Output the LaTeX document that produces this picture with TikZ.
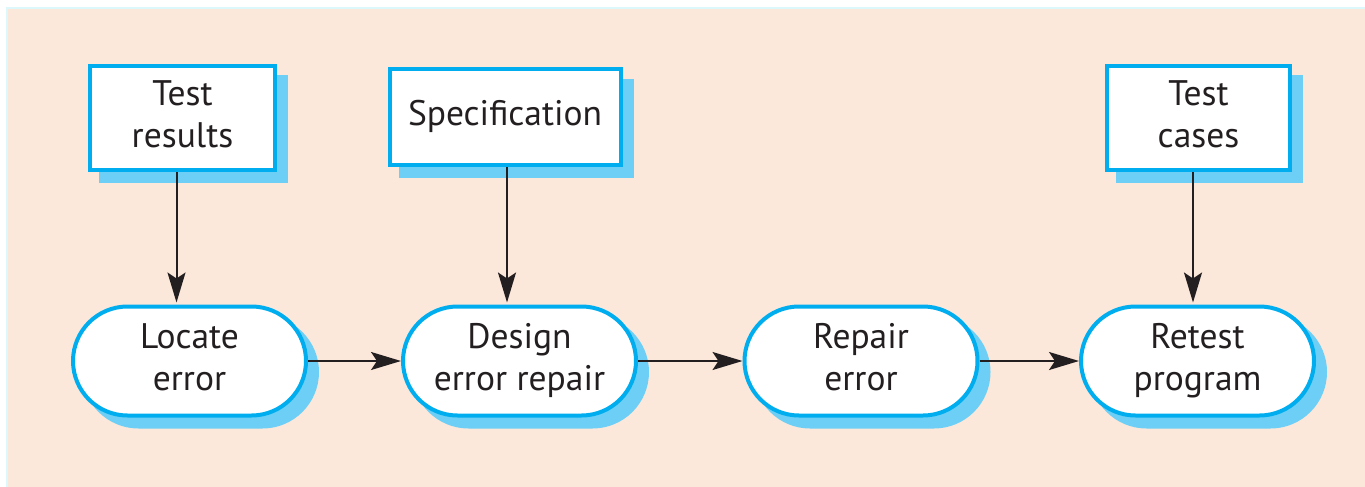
\documentclass[tikz,border=0pt]{standalone}
\usepackage{fontspec}
\setmainfont{PT Sans}
\usetikzlibrary{shapes.misc,shadows,arrows.meta}
\definecolor{peach}{HTML}{FCE8DA}
\definecolor{frameblue}{HTML}{00AEEF}
\definecolor{shadeblue}{HTML}{6DCFF6}
\definecolor{edgecyan}{HTML}{DDF8FA}
\definecolor{ink}{HTML}{231F20}
\newcommand{\lbl}[1]{\strut#1}
\tikzset{
  boxshadow/.style={general shadow={shadow xshift=11pt, shadow yshift=-11pt,
      fill=shadeblue, draw=shadeblue, line width=4pt}},
  labelfont/.style={font=\fontsize{35.5}{42}\selectfont},
  databox/.style={rectangle, draw=frameblue, line width=4pt, fill=white,
      text=ink, align=center, labelfont, inner sep=0pt, boxshadow},
  actbox/.style={rounded rectangle, draw=frameblue, line width=4pt, fill=white,
      text=ink, align=center, labelfont,
      minimum width=233pt, minimum height=109pt, inner sep=0pt, boxshadow},
  flow/.style={draw=ink, line width=2pt,
      -{Stealth[length=30pt, width=18pt, inset=6pt]}},
}
\begin{document}
\begin{tikzpicture}[x=1pt,y=-1pt]
  \useasboundingbox (0,0) rectangle (1365,487);
  % panel background
  \fill[white] (0,0) rectangle (1365,487);
  \fill[peach] (8,9) rectangle (1365,487);
  \draw[edgecyan, line width=2pt] (7,487) -- (7,8) -- (1365,8);

  % data boxes
  \node[databox, minimum width=185pt, minimum height=104pt] (tr) at (182.5,118) {\lbl{Test}\\\lbl{results}};
  \node[databox, minimum width=231pt, minimum height=95pt] (spec) at (505,117) {\lbl{Specification}};
  \node[databox, minimum width=183pt, minimum height=104pt] (tc) at (1198.5,118) {\lbl{Test}\\\lbl{cases}};

  % activities
  \node[actbox] (loc) at (189.5,361) {\lbl{Locate}\\\lbl{error}};
  \node[actbox] (des) at (519.5,361) {\lbl{Design}\\\lbl{error repair}};
  \node[actbox] (rep) at (861,361) {\lbl{Repair}\\\lbl{error}};
  \node[actbox] (ret) at (1197.5,361) {\lbl{Retest}\\\lbl{program}};

  % inputs
  \draw[flow] ([xshift=-6pt]tr.south) -- ([xshift=-6pt,yshift=2pt]tr.south |- loc.north);
  \draw[flow] ([xshift=2pt]spec.south) -- ([xshift=2pt,yshift=2pt]spec.south |- des.north);
  \draw[flow] ([xshift=-5.5pt]tc.south) -- ([xshift=-5.5pt,yshift=2pt]tc.south |- ret.north);

  % sequence
  \draw[flow] (loc.east) -- (des.west);
  \draw[flow] (des.east) -- (rep.west);
  \draw[flow] (rep.east) -- (ret.west);
\end{tikzpicture}
\end{document}
